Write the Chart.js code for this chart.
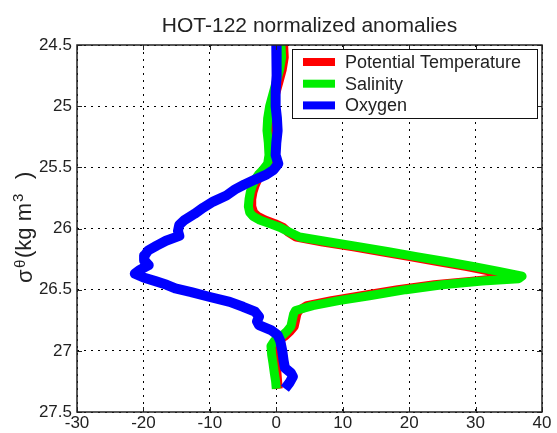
<!DOCTYPE html>
<html>
<head>
<meta charset="utf-8">
<script src="https://cdn.jsdelivr.net/npm/chart.js@4.4.1/dist/chart.umd.min.js"></script>
<style>
  html, body { margin: 0; padding: 0; background: #fff; overflow: hidden; }
  canvas { display: block; }
</style>
</head>
<body>
<canvas id="c" width="557" height="433"></canvas>
<script>
// HOT-122 normalized anomalies vs potential density

const seriesNames = ['Potential Temperature', 'Salinity', 'Oxygen'];
const seriesColors = ['#ff0000', '#00ee00', '#0000ff'];

const xTicks = [-30, -20, -10, 0, 10, 20, 30, 40];
const yTicks = [24.5, 25, 25.5, 26, 26.5, 27, 27.5];

const tempSigma = [24.5, 24.6, 24.7, 24.8, 24.9, 25.0, 25.1, 25.2, 25.3, 25.4, 25.47, 25.52, 25.56, 25.6, 25.65, 25.7, 25.76, 25.82, 25.87, 25.9, 25.93, 25.96, 25.99, 26.03, 26.07, 26.11, 26.15, 26.19, 26.23, 26.27, 26.31, 26.35, 26.39, 26.41, 26.43, 26.46, 26.5, 26.55, 26.59, 26.63, 26.67, 26.7, 26.75, 26.8, 26.84, 26.88, 26.92, 26.96, 27.03, 27.1, 27.18, 27.25, 27.31];
const tempAnom = [1.1, 1.2, 0.9, 0.4, -0.1, -0.6, -0.9, -1.0, -0.8, -0.7, -0.9, -1.6, -2.3, -2.8, -3.2, -3.5, -3.7, -3.7, -3.4, -2.8, -1.7, -0.2, 1.0, 1.8, 3.0, 7.0, 11.6, 15.9, 20.1, 24.3, 28.5, 32.3, 34.5, 33.0, 29.5, 23.8, 18.3, 12.8, 8.3, 4.6, 3.4, 3.1, 2.9, 2.7, 2.1, 1.3, 0.1, -0.4, -0.3, -0.1, 0.1, 0.2, 0.3];

const saltSigma = [24.5, 24.6, 24.7, 24.8, 24.9, 25.0, 25.1, 25.2, 25.3, 25.4, 25.47, 25.52, 25.56, 25.6, 25.65, 25.7, 25.76, 25.82, 25.87, 25.9, 25.93, 25.96, 25.99, 26.03, 26.07, 26.11, 26.15, 26.19, 26.23, 26.27, 26.31, 26.35, 26.39, 26.41, 26.43, 26.46, 26.5, 26.55, 26.59, 26.63, 26.67, 26.7, 26.75, 26.8, 26.84, 26.88, 26.92, 26.96, 27.03, 27.1, 27.18, 27.25, 27.31];
const saltAnom = [0.7, 0.8, 0.5, 0.0, -0.5, -1.0, -1.3, -1.4, -1.2, -1.1, -1.3, -2.0, -2.7, -3.2, -3.6, -3.9, -4.1, -4.2, -4.0, -3.5, -2.5, -1.0, 0.5, 2.0, 3.5, 8.0, 12.6, 16.9, 21.1, 25.4, 29.6, 33.5, 37.0, 36.5, 31.0, 25.0, 19.5, 14.0, 9.4, 5.5, 2.9, 2.6, 2.4, 2.2, 1.6, 0.8, -0.3, -0.8, -0.7, -0.5, -0.3, -0.1, 0.0];

const oxySigma = [24.5, 24.62, 24.75, 24.88, 25.0, 25.1, 25.2, 25.3, 25.4, 25.47, 25.52, 25.56, 25.6, 25.64, 25.68, 25.73, 25.78, 25.83, 25.88, 25.93, 25.97, 26.02, 26.06, 26.1, 26.14, 26.18, 26.22, 26.26, 26.3, 26.34, 26.37, 26.4, 26.43, 26.46, 26.49, 26.52, 26.56, 26.6, 26.64, 26.68, 26.72, 26.76, 26.79, 26.83, 26.87, 26.92, 27.0, 27.08, 27.14, 27.18, 27.21, 27.26, 27.31];
const oxyAnom = [0.0, 0.1, 0.0, -0.1, -0.1, 0.1, 0.2, 0.0, -0.1, 0.3, -0.4, -1.5, -3.2, -4.8, -6.2, -7.5, -9.5, -11.0, -12.3, -13.8, -14.6, -14.8, -14.6, -16.6, -18.0, -19.3, -19.8, -19.9, -19.2, -20.6, -21.3, -20.0, -18.2, -16.5, -15.2, -12.8, -10.0, -7.0, -5.0, -3.2, -2.6, -2.9, -2.6, -0.8, 0.2, 0.6, 0.9, 1.1, 1.3, 2.2, 2.5, 2.0, 1.3];

const FONT = "'Liberation Sans', Arial, Helvetica, sans-serif";

function pts(sig, val) {
  return sig.map((s, i) => ({ x: val[i], y: s }));
}

const decor = {
  id: 'decor',
  afterDraw(chart) {
    const { ctx, chartArea: a, scales: { x, y } } = chart;
    ctx.save();

    // inward tick marks + frame
    ctx.strokeStyle = '#222';
    ctx.lineWidth = 1;
    ctx.beginPath();
    xTicks.forEach(v => {
      const px = Math.round(x.getPixelForValue(v)) + 0.5;
      ctx.moveTo(px, a.top); ctx.lineTo(px, a.top + 5);
      ctx.moveTo(px, a.bottom); ctx.lineTo(px, a.bottom - 5);
    });
    yTicks.forEach(v => {
      const py = Math.round(y.getPixelForValue(v)) + 0.5;
      ctx.moveTo(a.left, py); ctx.lineTo(a.left + 5, py);
      ctx.moveTo(a.right, py); ctx.lineTo(a.right - 5, py);
    });
    ctx.stroke();
    ctx.lineWidth = 1.5;
    ctx.strokeRect(a.left, a.top, a.right - a.left, a.bottom - a.top);

    // legend box
    const bx = a.right - 250, by = a.top + 4, bw = 245, bh = 69;
    ctx.fillStyle = '#fff';
    ctx.fillRect(bx, by, bw, bh);
    ctx.lineWidth = 1;
    ctx.strokeStyle = '#111';
    ctx.strokeRect(bx + 0.5, by + 0.5, bw, bh);
    ctx.font = '18px ' + FONT;
    ctx.textBaseline = 'middle';
    ctx.textAlign = 'left';
    seriesNames.forEach((name, i) => {
      const ry = by + 13 + i * 21.7;
      ctx.strokeStyle = seriesColors[i];
      ctx.lineWidth = 8;
      ctx.beginPath();
      ctx.moveTo(bx + 11, ry); ctx.lineTo(bx + 43, ry);
      ctx.stroke();
      ctx.fillStyle = '#222';
      ctx.fillText(name, bx + 53, ry + 1);
    });

    // title
    ctx.fillStyle = '#222';
    ctx.font = '21px ' + FONT;
    ctx.textAlign = 'center';
    ctx.textBaseline = 'alphabetic';
    ctx.fillText('HOT-122 normalized anomalies', (a.left + a.right) / 2, 32);

    // y axis label, rotated
    ctx.translate(31, 283);
    ctx.rotate(-Math.PI / 2);
    ctx.textAlign = 'left';
    ctx.font = '22px ' + FONT;
    ctx.fillText('σ', 0, 1);
    ctx.font = '15px ' + FONT;
    ctx.fillText('θ', 15, -6);
    ctx.font = '22px ' + FONT;
    ctx.fillText('(kg m', 25, 0);
    ctx.font = '15px ' + FONT;
    ctx.fillText('3', 81, -8);
    ctx.font = '22px ' + FONT;
    ctx.fillText(')', 104, 0);

    ctx.restore();
  }
};

new Chart(document.getElementById('c'), {
  type: 'scatter',
  data: {
    datasets: [
      { label: seriesNames[0], data: pts(tempSigma, tempAnom), borderColor: seriesColors[0], backgroundColor: seriesColors[0], borderWidth: 9, order: 3 },
      { label: seriesNames[1], data: pts(saltSigma, saltAnom), borderColor: seriesColors[1], backgroundColor: seriesColors[1], borderWidth: 9, order: 2 },
      { label: seriesNames[2], data: pts(oxySigma, oxyAnom), borderColor: seriesColors[2], backgroundColor: seriesColors[2], borderWidth: 10, order: 1 }
    ].map(d => Object.assign(d, {
      showLine: true,
      pointRadius: 0,
      tension: 0,
      borderJoinStyle: 'round',
      borderCapStyle: 'butt'
    }))
  },
  options: {
    responsive: false,
    animation: false,
    events: [],
    layout: { padding: { top: 45, right: 15, left: 0, bottom: 0 } },
    plugins: {
      legend: { display: false },
      title: { display: false },
      tooltip: { enabled: false }
    },
    scales: {
      x: {
        type: 'linear',
        min: -30, max: 40,
        afterBuildTicks: s => { s.ticks = xTicks.map(v => ({ value: v })); },
        afterFit: s => { s.height = 21; },
        grid: { color: '#000', lineWidth: 1, drawTicks: false },
        border: { display: false, dash: [2, 5] },
        ticks: { color: '#222', padding: 1, font: { size: 17, family: FONT } }
      },
      y: {
        type: 'linear',
        reverse: true,
        min: 24.5, max: 27.5,
        afterBuildTicks: s => { s.ticks = yTicks.map(v => ({ value: v })); },
        afterFit: s => { s.width = 77; },
        grid: { color: '#000', lineWidth: 1, drawTicks: false },
        border: { display: false, dash: [2, 5] },
        ticks: { color: '#222', padding: 5, font: { size: 17, family: FONT }, callback: v => String(v) }
      }
    }
  },
  plugins: [decor]
});
</script>
</body>
</html>
